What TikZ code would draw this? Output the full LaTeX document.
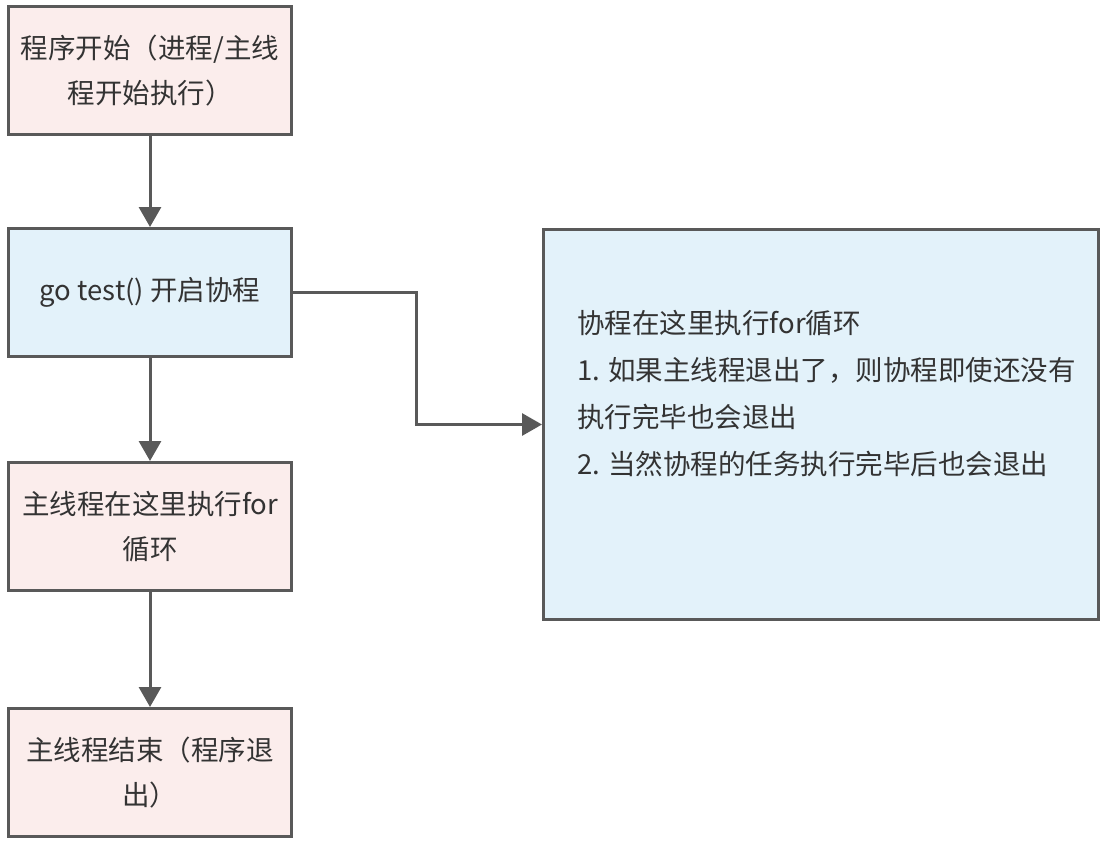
\documentclass[tikz,border=0pt]{standalone}
\usepackage{fontspec}
\setmainfont{Noto Sans CJK SC}
\usetikzlibrary{arrows.meta}
\definecolor{pinkfill}{HTML}{FBEDEC}
\definecolor{bluefill}{HTML}{E3F2FA}
\definecolor{edgegray}{HTML}{595959}
\definecolor{txt}{HTML}{333333}
\tikzset{
  box/.style={draw=edgegray, line width=3pt, minimum width=283pt, minimum height=128pt,
    inner sep=0pt, align=center, text=txt, font=\fontsize{27.5}{45}\selectfont},
  pinkbox/.style={box, fill=pinkfill},
  bluebox/.style={box, fill=bluefill},
  conn/.style={draw=edgegray, line width=3pt, -{Triangle[width=22pt,length=20pt]}}
}
\begin{document}
\begin{tikzpicture}[x=1pt,y=-1pt]
\useasboundingbox (0,0) rectangle (1106,844);
\node[pinkbox] (b1) at (150,70.5) {程序开始（进程/主线\\程开始执行）};
\node[bluebox] (b2) at (150,292.5) {go test() 开启协程};
\node[pinkbox] (b3) at (150,526.5) {主线程在这里执行for\\循环};
\node[pinkbox] (b4) at (150,772.5) {主线程结束（程序退\\出）};
\node[bluebox, minimum width=555pt, minimum height=390pt] (b5) at (821,424.5) {};
\node[anchor=west, align=left, text=txt, font=\fontsize{27.5}{47}\selectfont, inner sep=0pt] (t5) at (577,393.5)
  {协程在这里执行for循环\\1. 如果主线程退出了，则协程即使还没有\\执行完毕也会退出\\2. 当然协程的任务执行完毕后也会退出};
\draw[conn] (b1) -- (b2);
\draw[conn] (b2) -- (b3);
\draw[conn] (b3) -- (b4);
\draw[conn] (b2.east) -- ++(123,0) |- (b5.west);
\end{tikzpicture}
\end{document}
